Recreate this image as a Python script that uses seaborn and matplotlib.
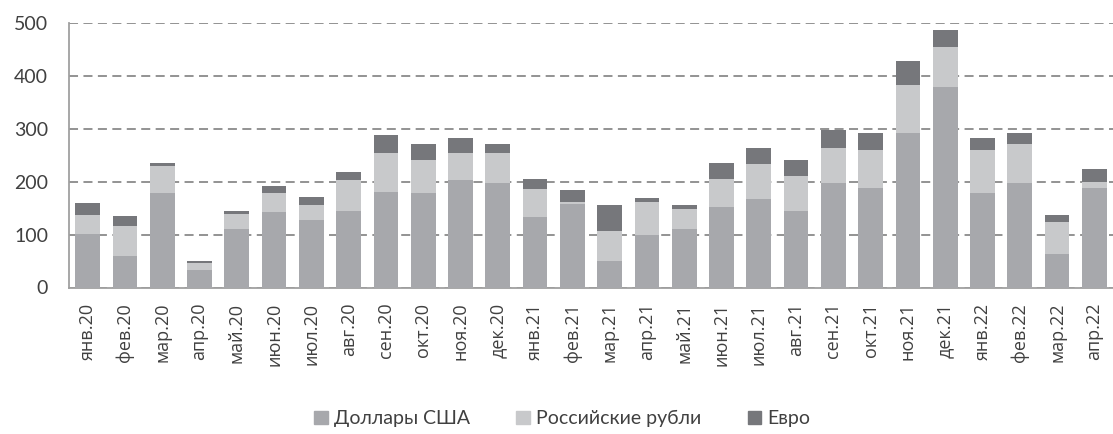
import matplotlib
matplotlib.use("Agg")
import matplotlib.pyplot as plt
import seaborn as sns
import pandas as pd
import numpy as np
from matplotlib.patches import Patch

months = ["янв.20", "фев.20", "мар.20", "апр.20", "май.20", "июн.20", "июл.20",
          "авг.20", "сен.20", "окт.20", "ноя.20", "дек.20", "янв.21", "фев.21",
          "мар.21", "апр.21", "май.21", "июн.21", "июл.21", "авг.21", "сен.21",
          "окт.21", "ноя.21", "дек.21", "янв.22", "фев.22", "мар.22", "апр.22"]
usd = [102, 59, 178, 34, 110, 142, 127, 145, 181, 178, 203, 198, 133, 158,
       51, 100, 110, 152, 167, 145, 197, 188, 293, 379, 178, 197, 63, 189]
rub = [36, 57, 52, 13, 29, 36, 29, 58, 73, 64, 51, 56, 53, 4,
       55, 61, 39, 54, 66, 66, 67, 73, 90, 76, 83, 74, 61, 11]
eur = [22, 19, 5, 4, 6, 14, 15, 15, 35, 29, 28, 17, 20, 23,
       51, 9, 8, 29, 31, 31, 35, 32, 46, 32, 21, 22, 14, 24]
series_names = ["Доллары США", "Российские рубли", "Евро"]
yticks = [0, 100, 200, 300, 400, 500]

sns.set_style("white")
plt.rcParams['font.family'] = ['Lato', 'DejaVu Sans']

c_usd, c_rub, c_eur = "#a7a8ac", "#c8c9cb", "#76777b"
txt = "#404040"
axc = "#a0a0a0"

df = pd.DataFrame({"month": months, "usd": usd, "rub": rub, "eur": eur})
df["usd_rub"] = df["usd"] + df["rub"]
df["total"] = df["usd_rub"] + df["eur"]

fig = plt.figure(figsize=(11.13, 4.34), dpi=100)
ax = fig.add_axes([69 / 1113, 1 - 287.5 / 434, (1113 - 69) / 1113, (287.5 - 23.3) / 434])

for col, color in [("total", c_eur), ("usd_rub", c_rub), ("usd", c_usd)]:
    sns.barplot(data=df, x="month", y=col, color=color, width=0.66,
                saturation=1, ax=ax, linewidth=0, zorder=3)

ax.set_ylim(0, 500)
ax.set_xlim(-0.5, 27.27)
ax.set_yticks(yticks)
ax.yaxis.grid(True, linestyle=(0, (5, 3)), color="#8a8a8a", linewidth=1.3, zorder=0)
ax.set_axisbelow(True)
ax.set_xlabel("")
ax.set_ylabel("")

for s in ["top", "right"]:
    ax.spines[s].set_visible(False)
for s in ["left", "bottom"]:
    ax.spines[s].set_color(axc)
    ax.spines[s].set_linewidth(1.3)

ax.set_xticks(np.arange(len(months)))
ax.set_xticklabels(months, rotation=90, fontsize=13, color=txt,
                   family=['Open Sans', 'DejaVu Sans'])
ax.tick_params(axis="x", length=0, pad=11)
ax.set_xticks(np.arange(len(months) + 1) - 0.5, minor=True)
ax.tick_params(axis="x", which="minor", length=7, color=axc, width=1.3, direction="out")
ax.tick_params(axis="y", length=7, color="#8a8a8a", width=1.3, labelsize=14,
               labelcolor=txt, pad=8, direction="out")

handles = [Patch(color=c_usd), Patch(color=c_rub), Patch(color=c_eur)]
fig.legend(handles, series_names, loc="center", bbox_to_anchor=(0.505, 0.035),
           ncol=3, frameon=False, fontsize=14, handlelength=0.7, handleheight=0.7,
           handletextpad=0.3, columnspacing=2.4, labelcolor=txt)

fig.savefig("out.png", dpi=100)
